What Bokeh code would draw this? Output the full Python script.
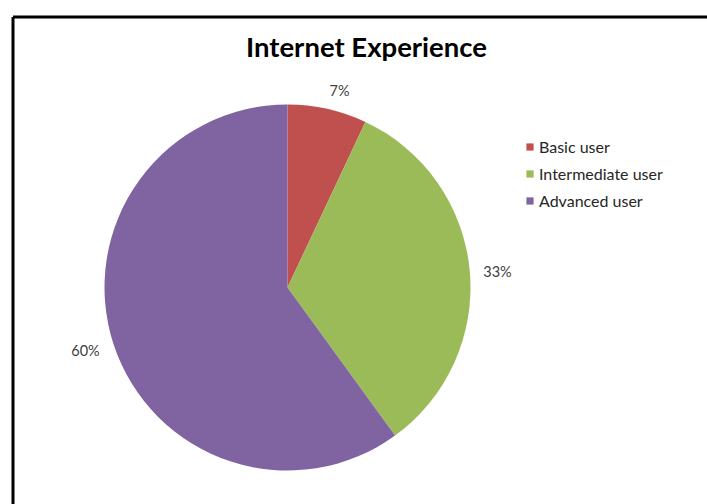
import math
from bokeh.plotting import figure
from bokeh.models import ColumnDataSource, Range1d, Legend, LegendItem
from bokeh.core.properties import value
from bokeh.embed import file_html
from bokeh.resources import INLINE

# ---- data ----
title = "Internet Experience"
categories = ["Basic user", "Intermediate user", "Advanced user"]
shares = [7, 33, 60]
colors = ["#C0504D", "#9BBB59", "#8064A2"]
pct_labels = ["7%", "33%", "60%"]

W, H = 707, 504
FONT = "Lato"
p = figure(width=W, height=H, output_backend="svg", toolbar_location=None,
           x_range=Range1d(0, W), y_range=Range1d(0, H), min_border=0,
           background_fill_color="white", border_fill_color="white")
p.axis.visible = False
p.grid.visible = False
p.outline_line_color = None

# frame (left and top edges)
p.line(x=[12.5, 12.5], y=[0, H - 16.5], line_color="black", line_width=3)
p.line(x=[12.5, W], y=[H - 16.5, H - 16.5], line_color="black", line_width=3)

# pie
cx, cy, r = 287, H - 287, 183
total = sum(shares)
starts, ends = [], []
acc = 0.0
for s in shares:
    a0 = math.pi / 2 - 2 * math.pi * acc / total
    acc += s
    a1 = math.pi / 2 - 2 * math.pi * acc / total
    starts.append(a0)
    ends.append(a1)

src = ColumnDataSource(dict(cat=categories, start=starts, end=ends, color=colors,
                            x=[cx] * 3, y=[cy] * 3))
wr = p.wedge(x="x", y="y", radius=r, start_angle="start", end_angle="end",
             direction="clock", fill_color="color", line_color=None, source=src)

# data labels (outside end), placed as in the reference
lx = [339, 497, 85]
ly = [H - 90, H - 271, H - 350]
p.text(x=lx, y=ly, text=pct_labels, text_align="center", text_baseline="middle",
       text_font=value(FONT), text_font_size="14.5px", text_color="#404040")

# title
p.text(x=[366], y=[H - 46], text=[title], text_align="center", text_baseline="middle",
       text_font=value(FONT), text_font_style="bold", text_font_size="27.5px",
       text_color="black")

# legend
items = [LegendItem(label=categories[i], renderers=[wr], index=i) for i in range(3)]
legend = Legend(items=items, location=(525, H - 210), orientation="vertical",
                glyph_width=9, glyph_height=9, label_height=18, spacing=8,
                padding=0, margin=0, label_standoff=5,
                label_text_font=FONT, label_text_font_size="16px",
                label_text_color="#262626",
                border_line_alpha=0, background_fill_alpha=0)
p.add_layout(legend)

open("out.html", "w").write(file_html(p, INLINE))
